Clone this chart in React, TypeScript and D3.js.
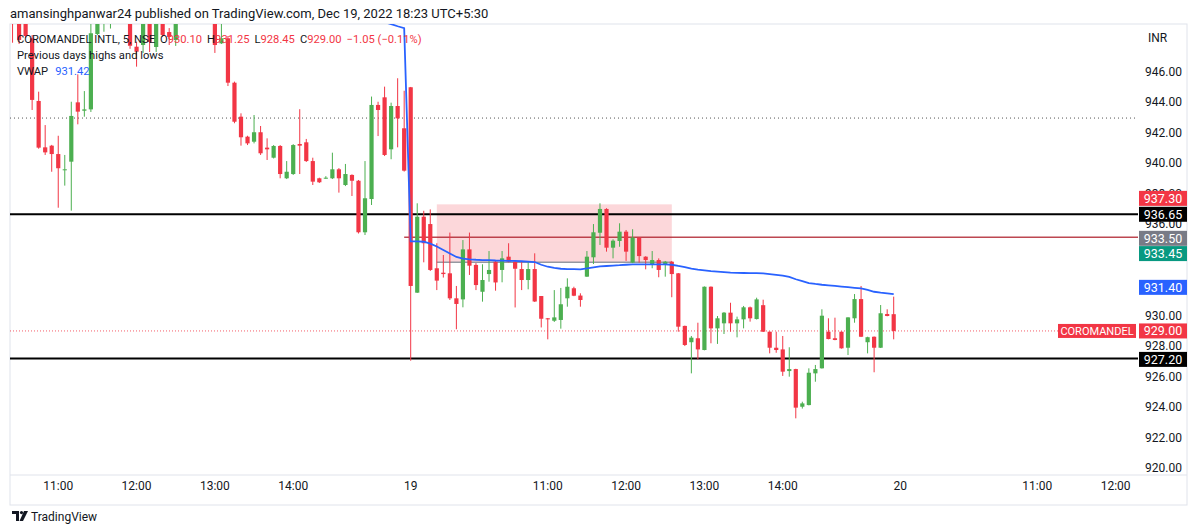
import React from 'react';
import * as d3 from 'd3';

// ---------- DATA ----------
const FIRST_INDEX = 14; // bar index of first visible candle (day 16, 10:25)

const opens = [
  950.2, 949.6, 949.4, 948.19, 944.08, 941.04, 941.15, 940.6, 939.54, 940.1,
  943.99, 943.44, 943.53, 948.47, 949.6, 950.2, 950.3, 950.8, 950.0, 947.64,
  947.75, 949.8, 947.62, 950.0, 948.6, 948.08, 949.7, 950.4, 950.9, 950.5,
  950.2, 949.5, 947.86, 948.19, 945.28, 943.05, 941.74, 941.41, 942.03, 941.02,
  940.36, 941.13, 939.01, 939.29, 941.26, 941.37, 940.14, 939.01, 939.01, 939.01,
  939.6, 938.57, 939.23, 938.85, 935.47, 937.65, 943.82, 944.32, 940.91, 943.75,
  942.29,
  944.98, 931.51, 936.49, 936.01, 933.11, 932.82, 932.78, 931.14, 931.07, 934.35,
  933.33, 931.57, 932.73, 933.54, 933.0, 933.87, 933.54, 933.06, 932.34, 933.06,
  931.29, 929.83, 929.67, 929.72, 931.14, 931.8, 931.32, 932.56, 933.83, 935.44,
  937.0, 934.46, 934.9, 935.51, 933.48, 935.12, 933.87, 933.33, 933.65, 933.33,
  933.54, 932.78, 929.33, 928.26, 928.52, 927.75, 931.9, 929.17, 929.5, 930.2,
  929.5, 929.76, 930.55, 929.78, 930.69, 928.95, 927.9, 927.79, 926.37, 926.5,
  924.03, 924.14, 926.22, 926.55, 928.95, 928.52, 928.95, 927.9, 929.83, 931.09,
  928.26, 928.62, 927.9, 930.11, 930.1,
];
const highs = [
  950.4, 949.8, 949.6, 948.4, 944.69, 942.5, 941.2, 941.8, 940.54, 944.03,
  945.83, 944.73, 949.5, 950.2, 950.6, 950.9, 951.0, 951.1, 950.3, 947.97,
  949.9, 950.1, 950.0, 950.3, 948.86, 949.9, 950.6, 951.2, 951.3, 950.8,
  950.5, 949.8, 949.5, 948.34, 945.35, 943.27, 941.8, 943.16, 942.44, 941.63,
  941.19, 941.19, 940.14, 941.25, 943.54, 941.59, 940.36, 939.05, 939.15, 940.69,
  939.68, 939.95, 939.27, 938.9, 940.14, 944.37, 944.03, 945.02, 943.97, 945.57,
  944.75,
  945.0, 937.37, 936.88, 936.97, 934.75, 933.98, 935.45, 931.95, 934.96, 935.45,
  933.45, 933.37, 934.24, 933.59, 934.24, 934.75, 933.65, 933.54, 933.54, 934.09,
  931.29, 929.85, 931.68, 931.82, 932.45, 931.9, 931.47, 934.24, 936.01, 937.37,
  937.05, 935.01, 936.06, 935.62, 935.67, 935.15, 933.9, 934.24, 933.76, 933.59,
  933.59, 932.8, 929.35, 928.67, 929.54, 931.92, 931.92, 929.98, 930.24, 930.85,
  929.94, 930.64, 930.6, 931.18, 931.05, 928.97, 928.95, 928.67, 927.93, 926.52,
  924.36, 926.55, 926.77, 930.42, 929.83, 929.87, 928.97, 929.9, 931.42, 931.95,
  928.62, 928.64, 930.7, 930.42, 931.25,
];
const lows = [
  947.9, 947.82, 948.2, 943.49, 940.95, 940.54, 939.44, 937.08, 938.53, 936.89,
  942.55, 943.05, 943.36, 948.4, 948.62, 948.83, 949.6, 949.5, 947.5, 946.33,
  947.23, 947.29, 947.29, 948.28, 947.75, 947.69, 949.4, 950.1, 950.2, 949.8,
  949.5, 947.23, 947.82, 945.06, 942.62, 941.15, 941.19, 941.3, 940.54, 940.21,
  940.31, 939.01, 938.96, 939.23, 939.29, 940.08, 938.57, 938.7, 938.98, 938.96,
  938.07, 938.5, 937.85, 935.39, 935.29, 937.26, 941.78, 940.47, 940.26, 941.04,
  939.45,
  927.05, 931.49, 933.5, 932.93, 931.68, 932.5, 931.03, 929.11, 930.55, 932.67,
  931.68, 930.92, 932.23, 931.64, 932.19, 933.5, 930.54, 931.68, 931.73, 930.9,
  929.23, 928.45, 929.59, 929.15, 930.59, 931.28, 930.59, 932.54, 933.39, 934.64,
  934.2, 933.76, 934.52, 933.59, 933.45, 933.48, 933.04, 933.11, 932.52, 932.56,
  931.21, 928.95, 928.01, 926.22, 927.14, 927.73, 928.19, 928.15, 928.8, 928.95,
  928.58, 929.17, 929.61, 929.75, 928.93, 927.53, 927.57, 926.05, 926.0, 923.27,
  923.91, 924.12, 925.67, 926.53, 928.45, 928.39, 927.84, 927.42, 929.54, 928.6,
  927.53, 926.29, 927.88, 929.96, 928.45,
];
const closes = [
  949.5, 948.08, 948.34, 944.15, 941.02, 940.71, 940.6, 939.67, 939.6, 943.1,
  943.38, 943.53, 948.52, 949.8, 950.3, 950.6, 950.8, 950.1, 947.7, 947.31,
  949.6, 947.95, 949.7, 948.41, 948.28, 949.6, 950.4, 950.9, 950.5, 950.2,
  949.9, 947.75, 948.19, 945.28, 942.72, 941.7, 941.3, 942.03, 940.65, 940.91,
  941.13, 939.29, 939.44, 941.19, 941.15, 940.14, 938.79, 938.75, 939.05, 939.6,
  939.01, 939.29, 938.85, 935.47, 937.7, 943.82, 943.49, 940.54, 943.75, 942.94,
  939.51,
  931.95, 936.49, 934.75, 933.0, 932.3, 932.73, 931.14, 930.77, 934.35, 933.28,
  932.01, 932.34, 933.0, 932.18, 933.76, 933.54, 933.08, 932.34, 933.06, 930.93,
  929.8, 929.76, 929.89, 930.75, 931.9, 931.31, 931.03, 933.87, 935.47, 937.0,
  934.46, 934.92, 935.51, 934.2, 935.12, 933.91, 933.65, 933.65, 933.0, 933.54,
  932.73, 929.28, 928.08, 928.56, 927.79, 931.9, 929.17, 929.83, 930.2, 929.5,
  929.76, 930.55, 929.83, 931.07, 928.95, 927.9, 927.75, 926.33, 926.5, 923.97,
  924.25, 926.26, 926.5, 930.0, 928.47, 928.41, 927.86, 929.89, 931.09, 928.62,
  928.59, 927.9, 930.16, 929.98, 929.0,
];

const VWAP_FIRST_INDEX = 70;
const vwap = [
  949.4, 949.25, 949.12, 948.98, 948.86,
  934.87, 934.87, 934.85, 934.73, 934.54, 934.31, 934.08, 933.85, 933.74, 933.7,
  933.67, 933.65, 933.64, 933.62, 933.61, 933.6, 933.59, 933.57, 933.55, 933.52,
  933.34, 933.21, 933.13, 933.08, 933.06, 933.05, 933.04, 933.1, 933.17, 933.23,
  933.26, 933.29, 933.31, 933.34, 933.36, 933.37, 933.37, 933.37, 933.37, 933.36,
  933.34, 933.26, 933.19, 933.08, 933.02, 932.97, 932.92, 932.89, 932.86, 932.83,
  932.81, 932.8, 932.79, 932.79, 932.77, 932.73, 932.68, 932.63, 932.54, 932.39,
  932.26, 932.14, 932.08, 932.03, 931.99, 931.95, 931.91, 931.87, 931.83, 931.79,
  931.69, 931.57, 931.51, 931.47, 931.42,
];

const timeTickIndex = [21, 33, 45, 57, 75, 96, 108, 120, 132, 150, 171, 183];
const timeTickLabel = ['11:00', '12:00', '13:00', '14:00', '19', '11:00', '12:00', '13:00', '14:00', '20', '11:00', '12:00'];

const priceTicks = [920, 922, 924, 926, 928, 930, 932, 934, 936, 938, 940, 942, 944, 946];

const prevHigh = 936.65;
const prevLow = 927.2;
const prevDottedLevel = 942.96;
const lastPrice = 929.0;
const redLevel = 935.15;
const redLevelStartIndex = 74;

const boxStartIndex = 79;
const boxEndIndex = 115;
const boxTop = 937.3;
const boxBottom = 933.5;

const axisLabelValues = [937.3, 936.65, 933.5, 933.45, 931.4, 929.0, 927.2];
const axisLabelColors = ['#f23645', '#000000', '#787b86', '#089981', '#2962ff', '#f23645', '#000000'];
const axisLabelNudge = [-6, 0, -24, -9.5, -7, 0, 1];

const UP = '#4caf50';
const DOWN = '#f23645';
const FONT = 'Roboto, "Noto Sans", sans-serif';

export default function App() {
  const paneL = 10, paneR = 1138, paneT = 24, paneB = 475;
  const axisR = 1187, timeB = 505;

  const x = d3.scaleLinear().domain([75, 149]).range([410.7, 893.7]);
  const y = d3.scaleLinear().domain([920, 946]).range([468.2, 71.7]);
  const bodyW = 4.2;

  const candles = opens.map((o, k) => ({
    i: FIRST_INDEX + k, o, h: highs[k], l: lows[k], c: closes[k],
  }));

  const vwapLine = d3.line<number>()
    .x((_, k) => x(VWAP_FIRST_INDEX + k))
    .y((v) => y(v));

  return (
    <svg width={1200} height={532} style={{ position: 'absolute', left: 0, top: 0, background: '#fff' }}
      fontFamily={FONT}>
      <defs>
        <clipPath id="pane">
          <rect x={paneL} y={paneT} width={paneR - paneL} height={paneB - paneT} />
        </clipPath>
      </defs>
      <rect x={0} y={0} width={1200} height={532} fill="#fff" />

      {/* header */}
      <text x={10} y={18} fontSize={13} fill="#131722">
        amansinghpanwar24 published on TradingView.com, Dec 19, 2022 18:23 UTC+5:30
      </text>

      {/* frame */}
      <rect x={paneL} y={paneT} width={axisR - paneL} height={timeB - paneT} fill="none" stroke="#e0e3eb" />
      <line x1={paneL} x2={axisR} y1={paneB} y2={paneB} stroke="#e0e3eb" />

      <g clipPath="url(#pane)">
        {/* box */}
        <rect x={x(boxStartIndex)} y={y(boxTop)} width={x(boxEndIndex) - x(boxStartIndex)}
          height={y(boxBottom) - y(boxTop)} fill="rgba(242,54,69,0.2)" />
        <line x1={x(boxStartIndex)} x2={x(boxEndIndex)} y1={y(boxBottom)} y2={y(boxBottom)} stroke="#9598a1" strokeWidth={1.5} />

        {/* levels */}
        <line x1={paneL} x2={paneR} y1={y(prevDottedLevel)} y2={y(prevDottedLevel)} stroke="#555" strokeDasharray="1,3" />
        <line x1={paneL} x2={paneR} y1={y(lastPrice)} y2={y(lastPrice)} stroke="#f23645" strokeDasharray="1,2" opacity={0.8} />
        <line x1={x(redLevelStartIndex)} x2={paneR} y1={y(redLevel)} y2={y(redLevel)} stroke="#b22833" strokeWidth={1.5} opacity={0.85} />
        <line x1={paneL} x2={paneR} y1={y(prevHigh)} y2={y(prevHigh)} stroke="#000" strokeWidth={2} />
        <line x1={paneL} x2={paneR} y1={y(prevLow)} y2={y(prevLow)} stroke="#000" strokeWidth={2} />

        {/* candles */}
        {candles.map((d) => {
          const col = d.c >= d.o ? UP : DOWN;
          const top = y(Math.max(d.o, d.c));
          const bot = y(Math.min(d.o, d.c));
          const cx = x(d.i);
          return (
            <g key={d.i}>
              <line x1={cx} x2={cx} y1={y(d.h)} y2={y(d.l)} stroke={col} strokeWidth={1} />
              <rect x={cx - bodyW / 2} y={top} width={bodyW} height={Math.max(1, bot - top)} fill={col} />
            </g>
          );
        })}

        {/* VWAP */}
        <path d={vwapLine(vwap) || ''} fill="none" stroke="#2962ff" strokeWidth={1.8} />
      </g>

      {/* legend */}
      <text x={17} y={43} fontSize={11.2} fill="#131722">
        COROMANDEL INTL, 5, NSE
        <tspan dx={5}>O</tspan><tspan fill="#f23645">930.10</tspan>
        <tspan dx={5}>H</tspan><tspan fill="#f23645">931.25</tspan>
        <tspan dx={5}>L</tspan><tspan fill="#f23645">928.45</tspan>
        <tspan dx={5}>C</tspan><tspan fill="#f23645">929.00</tspan>
        <tspan dx={5} fill="#f23645">−1.05 (−0.11%)</tspan>
      </text>
      <text x={17} y={59} fontSize={11.2} fill="#131722">Previous days highs and lows</text>
      <text x={17} y={75} fontSize={11.2} fill="#131722">
        VWAP<tspan dx={7} fill="#2962ff">931.42</tspan>
      </text>

      {/* price axis */}
      <text x={1148} y={42} fontSize={12} fill="#131722">INR</text>
      {priceTicks.map((p) => (
        <text key={p} x={1182} y={y(p)} dy="0.35em" fontSize={12} textAnchor="end" fill="#131722">
          {p.toFixed(2)}
        </text>
      ))}
      {axisLabelValues.map((v, k) => {
        const cy = y(v) + axisLabelNudge[k];
        return (
          <g key={k}>
            <rect x={paneR + 1} y={cy - 7.5} width={48} height={15} fill={axisLabelColors[k]} />
            <text x={paneR + 25} y={cy} dy="0.36em" fontSize={12.5} textAnchor="middle" fill="#fff">
              {v.toFixed(2)}
            </text>
          </g>
        );
      })}
      {/* symbol tag */}
      <rect x={1058} y={y(lastPrice) - 7} width={78} height={14} fill="#f23645" />
      <text x={1097} y={y(lastPrice)} dy="0.36em" fontSize={11} textAnchor="middle" fill="#fff">COROMANDEL</text>

      {/* time axis */}
      {timeTickIndex.map((ti, k) => (
        <text key={k} x={x(ti)} y={490} fontSize={12} textAnchor="middle" fill="#131722">
          {timeTickLabel[k]}
        </text>
      ))}

      {/* logo */}
      <g transform="translate(12,511)" fill="#131722">
        <path d="M0 0 H7 V10 H4 V3 H0 Z" />
        <circle cx={9.5} cy={1.6} r={1.6} />
        <path d="M12 0 H16 L11 10 H7.5 Z" />
      </g>
      <text x={31} y={521} fontSize={12} fill="#131722">TradingView</text>
    </svg>
  );
}
